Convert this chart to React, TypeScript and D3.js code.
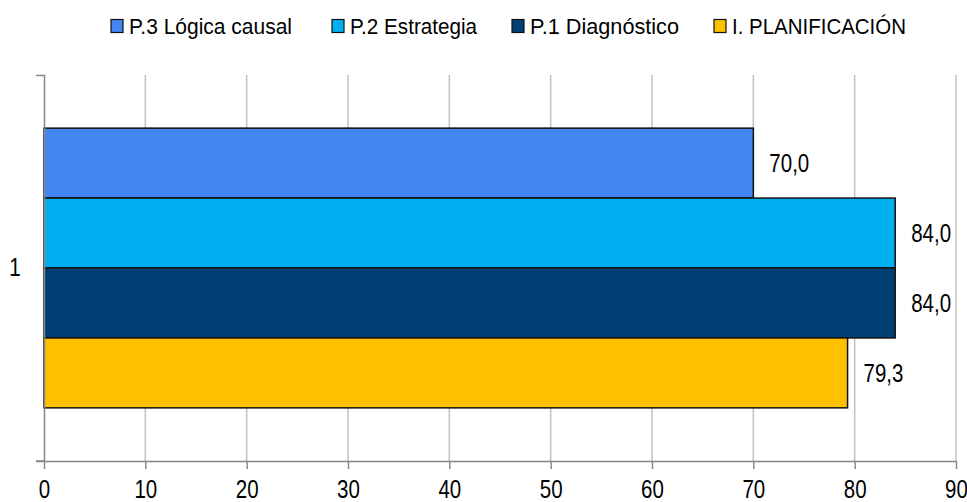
import React, { useEffect, useRef } from 'react';
import * as d3 from 'd3';

const categories = ['1'];
const seriesNames = ['P.3 Lógica causal', 'P.2 Estrategia', 'P.1 Diagnóstico', 'I. PLANIFICACIÓN'];
const seriesValues = [70.0, 84.0, 84.0, 79.3];
const seriesColors = ['#4485f4', '#00b0f0', '#003f73', '#ffc000'];
const xTicks = [0, 10, 20, 30, 40, 50, 60, 70, 80, 90];

// no narrow font installed, so squeeze Liberation Sans horizontally
const FONT = '"Liberation Sans", Arial, sans-serif';
const NARROW = 0.82;

const App: React.FC = () => {
  const svgRef = useRef<SVGSVGElement>(null);

  useEffect(() => {
    if (!svgRef.current) return;
    const svg = d3.select(svgRef.current);
    svg.selectAll('*').remove();

    const margin = { top: 75, right: 11, bottom: 41, left: 44 };
    const width = 967 - margin.left - margin.right;
    const height = 502 - margin.top - margin.bottom;

    const g = svg.append('g').attr('transform', `translate(${margin.left},${margin.top})`);

    const x = d3.scaleLinear().domain([0, 90]).range([0, width]);
    const y0 = d3.scaleBand().domain(categories).range([0, height]).paddingOuter(0.19).paddingInner(0);
    const y1 = d3.scaleBand().domain(seriesNames).range([0, y0.bandwidth()]);

    // Grid lines
    g.append('g')
      .selectAll('line')
      .data(xTicks.slice(1))
      .enter().append('line')
      .attr('x1', d => x(d)).attr('x2', d => x(d))
      .attr('y1', 0).attr('y2', height)
      .attr('stroke', '#c0c0c0').attr('stroke-width', 1.5);

    // Bars
    const grp = g.selectAll('.cat')
      .data(categories)
      .enter().append('g')
      .attr('transform', d => `translate(0,${y0(d)})`);

    seriesNames.forEach((name, i) => {
      grp.append('rect')
        .attr('x', 0)
        .attr('y', y1(name)!)
        .attr('width', x(seriesValues[i]))
        .attr('height', y1.bandwidth())
        .attr('fill', seriesColors[i])
        .attr('stroke', '#111')
        .attr('stroke-width', 1.5);

      grp.append('text')
        .attr('transform', `translate(${x(seriesValues[i]) + 16},${y1(name)! + y1.bandwidth() / 2}) scale(${NARROW},1)`)
        .attr('dy', '0.35em')
        .attr('font-family', FONT)
        .attr('font-size', 25)
        .attr('fill', '#000')
        .text(d3.format('.1f')(seriesValues[i]).replace('.', ','));
    });

    // Left axis
    const leftAxis = g.append('g')
      .call(d3.axisLeft(y0).tickSize(0).tickSizeOuter(8).tickPadding(0));
    leftAxis.select('.domain').attr('stroke', '#888').attr('stroke-width', 1.5);
    leftAxis.selectAll('text')
      .attr('x', 0)
      .attr('text-anchor', 'middle')
      .attr('transform', `translate(-29,0) scale(${NARROW},1)`)
      .attr('font-family', FONT).attr('font-size', 25).attr('fill', '#000');

    // Bottom axis
    const bottomAxis = g.append('g')
      .attr('transform', `translate(0,${height})`)
      .call(d3.axisBottom(x).tickValues(xTicks).tickSize(8).tickSizeOuter(0).tickPadding(11));
    bottomAxis.select('.domain').attr('stroke', '#888').attr('stroke-width', 1.5);
    bottomAxis.selectAll('line').attr('stroke', '#888').attr('stroke-width', 1.5);
    bottomAxis.selectAll('text')
      .attr('transform', `scale(${NARROW},1)`)
      .attr('font-family', FONT).attr('font-size', 25).attr('fill', '#000');

    // left extension of bottom axis
    g.append('line')
      .attr('x1', -8).attr('x2', 0)
      .attr('y1', height).attr('y2', height)
      .attr('stroke', '#888').attr('stroke-width', 1.5);

    // Legend
    const legendX = [111, 332, 512, 714];
    const legendW = [163, 127, 149, 174];
    const legend = svg.append('g');
    seriesNames.forEach((name, i) => {
      const lg = legend.append('g').attr('transform', `translate(${legendX[i]},26)`);
      lg.append('rect')
        .attr('x', 0).attr('y', -6.5)
        .attr('width', 12).attr('height', 13)
        .attr('fill', seriesColors[i])
        .attr('stroke', '#111').attr('stroke-width', 1.2);
      lg.append('text')
        .attr('x', 18).attr('y', 0)
        .attr('dy', '0.35em')
        .attr('textLength', legendW[i])
        .attr('lengthAdjust', 'spacingAndGlyphs')
        .attr('font-family', FONT).attr('font-size', 22).attr('fill', '#000')
        .text(name);
    });
  }, []);

  return <svg ref={svgRef} width={967} height={502} style={{ position: 'absolute', left: 0, top: 0 }} />;
};

export default App;
